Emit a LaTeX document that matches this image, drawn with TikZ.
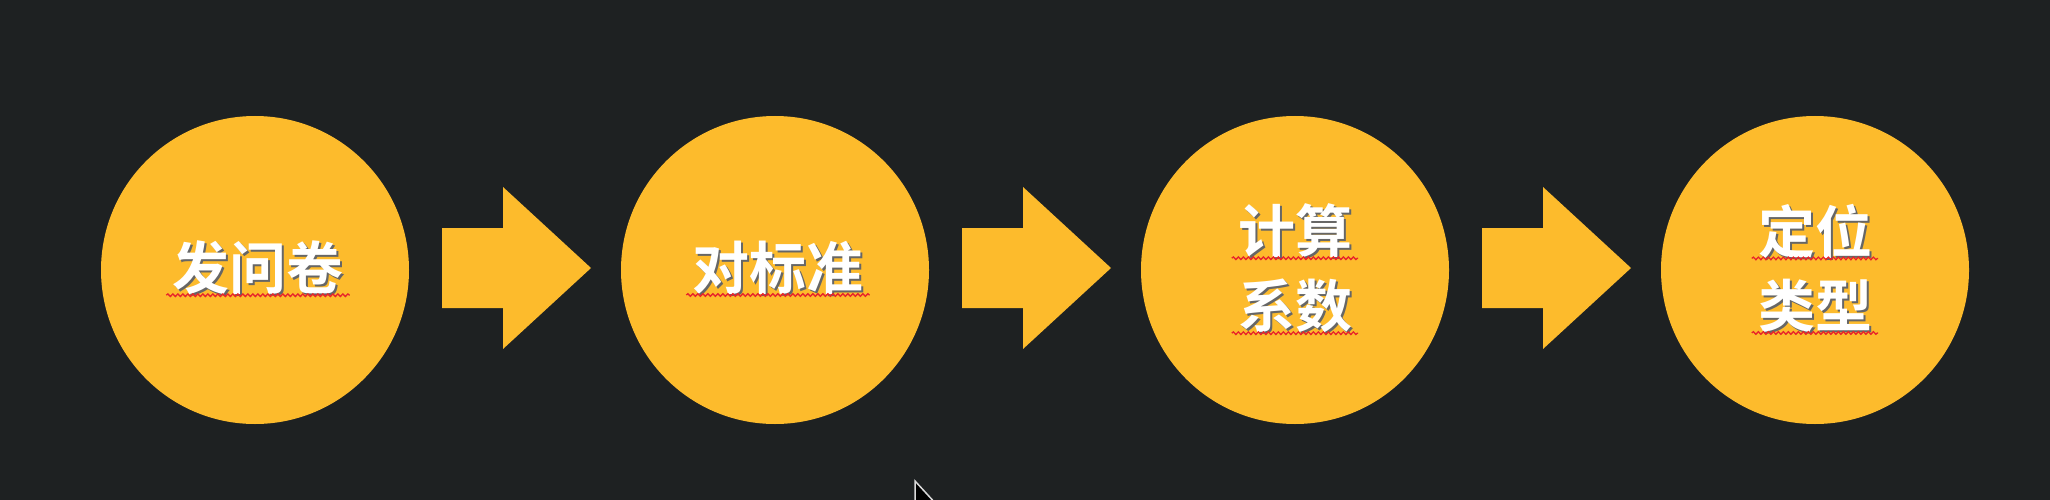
\documentclass[tikz,border=0pt]{standalone}
\usepackage{fontspec}
\newfontfamily\cjk{Noto Sans CJK SC}[BoldFont={Noto Sans CJK SC Bold}]
\usetikzlibrary{calc,decorations.pathmorphing}
\definecolor{bg}{HTML}{1E2122}
\definecolor{gold}{HTML}{FDBB2C}
\definecolor{wavy}{HTML}{E8242A}
\begin{document}
\begin{tikzpicture}[x=1pt,y=-1pt,
  stage/.style={circle,fill=gold,minimum size=308pt,inner sep=0pt},
  lbl/.style={text=white,font=\cjk\bfseries\fontsize{57}{68}\selectfont,inner sep=0pt},
  shadowlbl/.style={lbl,text=black!60},
  flow/.style={fill=gold},
  squiggle/.style={draw=wavy,line width=1.3pt,decorate,decoration={snake,segment length=5pt,amplitude=1.3pt}},
  pointer/.style={fill=black,draw=white!85!black,line width=1.5pt}]
\fill[bg] (0,0) rectangle (2050,500);
\useasboundingbox (0,0) rectangle (2050,500);

\node[stage] (s1) at (255,270) {};
\node[stage] (s2) at (775,270) {};
\node[stage] (s3) at (1295,270) {};
\node[stage] (s4) at (1815,270) {};

\foreach \a in {s1,s2,s3}
  \fill[flow] ($(\a.center)+(187,-42)$) -- ($(\a.center)+(248,-42)$)
    -- ($(\a.center)+(248,-83)$) -- ($(\a.center)+(336,-2)$)
    -- ($(\a.center)+(248,79)$) -- ($(\a.center)+(248,38)$)
    -- ($(\a.center)+(187,38)$) -- cycle;

% labels with shadows
\node[shadowlbl] (t1s) at (260,270) {发问卷};
\node[lbl] (t1) at (258,268) {发问卷};
\node[shadowlbl] (t2s) at (780,270) {对标准};
\node[lbl] (t2) at (778,268) {对标准};
\node[shadowlbl] (t3as) at (1297,233) {计算};
\node[lbl] (t3a) at (1295,231) {计算};
\node[shadowlbl] (t3bs) at (1297,308) {系数};
\node[lbl] (t3b) at (1295,306) {系数};
\node[shadowlbl] (t4as) at (1817,233) {定位};
\node[lbl] (t4a) at (1815,231) {定位};
\node[shadowlbl] (t4bs) at (1817,308) {类型};
\node[lbl] (t4b) at (1815,306) {类型};

\foreach \t in {t1,t2,t3a,t3b,t4a,t4b}
  \draw[squiggle] ($(\t.south west)+(-6,0)$) -- ($(\t.south east)+(6,0)$);

\coordinate (cur) at (915,481);
\filldraw[pointer] (cur) -- ++(0,24) -- ++(22,0) -- cycle;
\end{tikzpicture}
\end{document}
